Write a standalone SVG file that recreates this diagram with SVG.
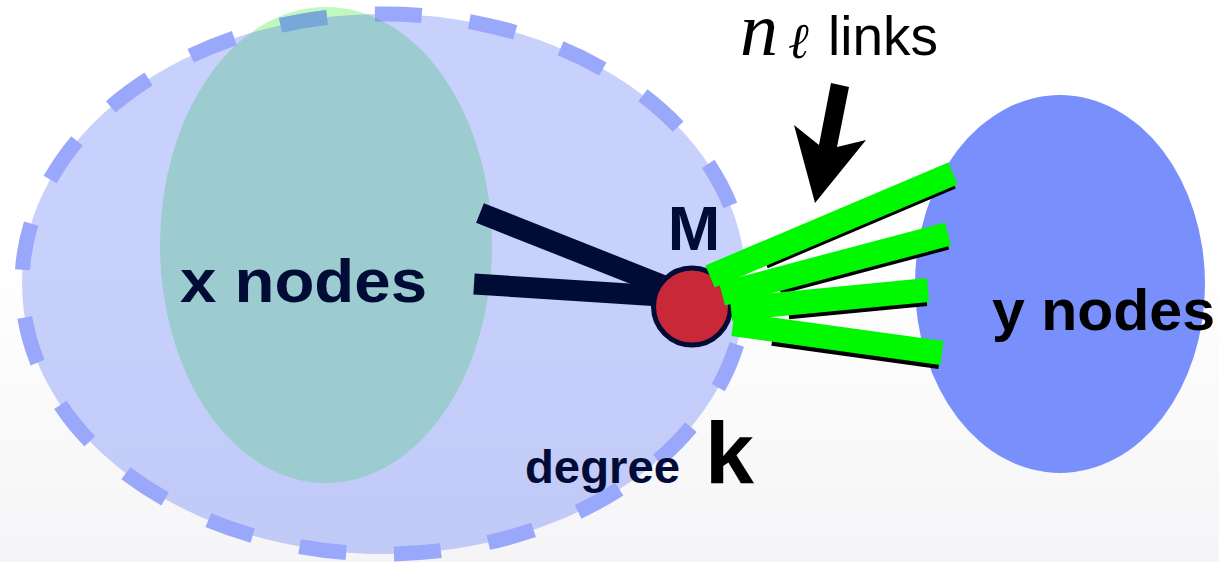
<svg xmlns="http://www.w3.org/2000/svg" width="1219" height="562" viewBox="0 0 1219 562">
<defs>
<linearGradient id="bg" x1="0" y1="0" x2="0" y2="1">
<stop offset="0" stop-color="#ffffff"/>
<stop offset="0.45" stop-color="#ffffff"/>
<stop offset="1" stop-color="#f5f5f7"/>
</linearGradient>
<clipPath id="greenClip">
<ellipse cx="326" cy="245" rx="166" ry="238"/>
</clipPath>
<path id="ring" d="M746 284 A362 270 0 0 1 22 284 A362 270 0 0 1 746 284"/>
<style>
.navy{fill:#000b36}
.bold{font-family:"Liberation Sans",Arial,sans-serif;font-weight:bold}
.link{stroke:#00f900;stroke-width:24;stroke-linecap:butt;fill:none}
.shadow{stroke:#000000;stroke-width:24;stroke-linecap:butt;fill:none}
.spoke{stroke:#000b36;stroke-width:21;stroke-linecap:butt;fill:none}
.dash{fill:none;stroke-width:15;stroke-dasharray:47 48.05 47 48.05 47 48.05 47 48.05 47 48.05 47 48.05 47 48.05 47 48.05 47 48.05 47 48.05 47 48.05 47 48.05 47 48.05 47 48.05 47 48.05 47 48.05 47 48.05 47 48.05 47 48.05 47 143.05;stroke-dashoffset:-61.5}
</style>
</defs>
<rect x="0" y="0" width="1219" height="562" fill="url(#bg)"/>

<g id="x-nodes">
<ellipse cx="326" cy="245" rx="166" ry="238" fill="#c0f8c0"/>
</g>
<g id="degree-k-region">
<ellipse cx="384" cy="284" rx="362" ry="270" fill="#4d67f5" fill-opacity="0.31"/>
<use href="#ring" class="dash" stroke="#9aa8fb"/>
<use href="#ring" class="dash" stroke="#78a8d8" clip-path="url(#greenClip)"/>
</g>
<g id="y-nodes">
<ellipse cx="1060" cy="284" rx="145" ry="189" fill="#788ffc"/>
</g>

<g id="connectors">
<line class="spoke" x1="480" y1="213" x2="692" y2="297"/>
<line class="spoke" x1="474" y1="284" x2="692" y2="298"/>
</g>

<g id="node-M">
<circle cx="692" cy="306.5" r="38.5" fill="#c82838" stroke="#000b36" stroke-width="5"/>
<text class="bold navy" x="694" y="250" font-size="63" text-anchor="middle">M</text>
</g>

<g id="links">
<g transform="translate(-2,4)">
<line class="shadow" x1="765" y1="253.2" x2="953" y2="173.5"/>
<line class="shadow" x1="780" y1="278.6" x2="948" y2="234"/>
<line class="shadow" x1="790" y1="303.4" x2="928" y2="290"/>
<line class="shadow" x1="775" y1="329.8" x2="942" y2="353"/>
</g>
<line class="link" x1="710" y1="276.5" x2="953" y2="173.5"/>
<line class="link" x1="722" y1="294" x2="948" y2="234"/>
<line class="link" x1="731" y1="309" x2="928" y2="290"/>
<line class="link" x1="733" y1="324" x2="942" y2="353"/>
</g>

<g id="arrow">
<polygon points="831,83 849,87 837,147 866,140 815,203 794,125 819,145" fill="#000000"/>
</g>

<g id="labels">
<text class="bold navy" x="180" y="302" font-size="62" textLength="247" lengthAdjust="spacingAndGlyphs">x nodes</text>
<text class="bold" x="992" y="330" font-size="58" fill="#000000" textLength="223" lengthAdjust="spacingAndGlyphs">y nodes</text>
<text class="bold navy" x="525" y="483" font-size="47" textLength="155" lengthAdjust="spacingAndGlyphs">degree</text>
<text class="bold" x="705" y="483" font-size="88" fill="#000000">k</text>
<text x="740" y="55" font-family="'Liberation Serif','Times New Roman',serif" font-style="italic" font-size="76" fill="#000000">n</text>
<text x="788" y="58" font-family="'DejaVu Serif','Liberation Serif',serif" font-style="italic" font-size="50" fill="#000000">ℓ</text>
<text x="828" y="55" font-family="'Liberation Sans',Arial,sans-serif" font-size="56" fill="#000000" textLength="110" lengthAdjust="spacingAndGlyphs">links</text>
</g>
</svg>
